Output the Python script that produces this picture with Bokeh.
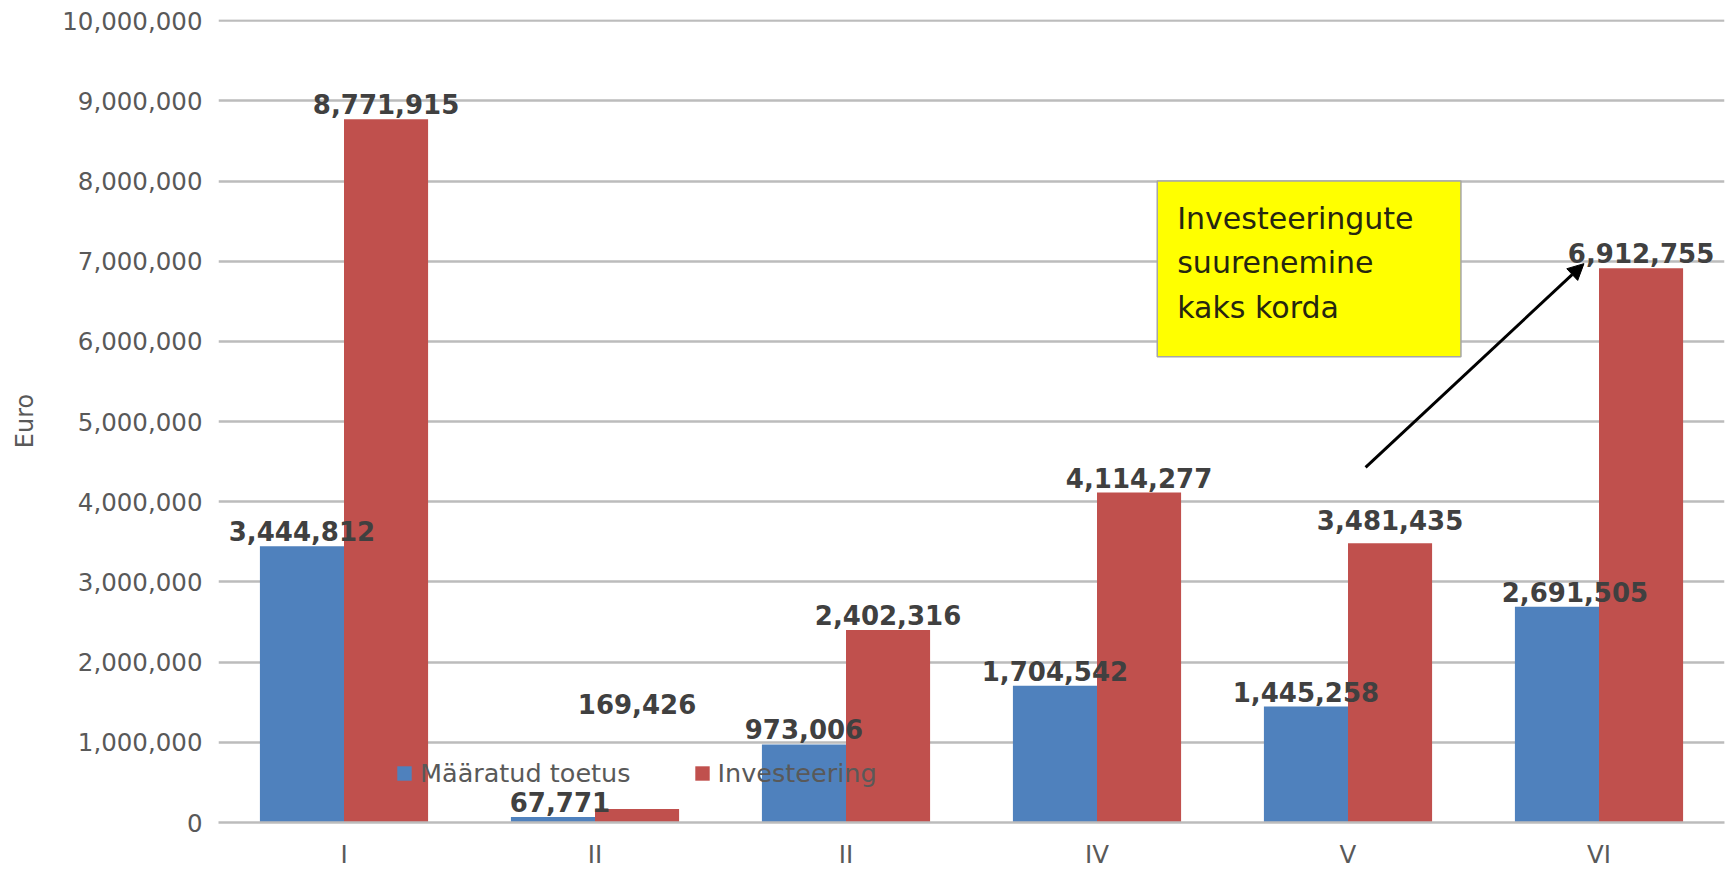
import numpy as np
from bokeh.plotting import figure
from bokeh.models import (ColumnDataSource, Range1d, FixedTicker, NumeralTickFormatter,
                          LabelSet, Label, BoxAnnotation, Arrow, NormalHead, Legend, LegendItem)
from bokeh.core.properties import value
from bokeh.embed import file_html
from bokeh.resources import INLINE

# ---------------- data ----------------
categories = ["I", "II", "II", "IV", "V", "VI"]
toetus = [3444812, 67771, 973006, 1704542, 1445258, 2691505]
investeering = [8771915, 169426, 2402316, 4114277, 3481435, 6912755]
series_names = ["Määratud toetus", "Investeering"]
y_ticks = [0, 1000000, 2000000, 3000000, 4000000, 5000000,
           6000000, 7000000, 8000000, 9000000, 10000000]
y_label = "Euro"
annotation_text = "Investeeringute\nsuurenemine\nkaks korda"

# ---------------- style ----------------
BLUE = "#4F81BD"
RED = "#C0504D"
GRID = "#bcbcbc"
AXIS_TXT = "#595959"
LABEL_TXT = "#404040"
FONT = "DejaVu Sans"
BAR_W = 0.335
Y_TOP_PAD = 15000  # keeps the top gridline fully visible
# per-label manual nudges (px) as in the original
toetus_dx = [0, 7, 0, 0, 0, 18]
invest_dy = [0, 90, 0, 0, 8, 0]

# annotation box placement (data units)
ANN_LEFT, ANN_RIGHT, ANN_BOTTOM, ANN_TOP = 4.24, 5.45, 5.81e6, 8.0e6
ARR_X0, ARR_Y0, ARR_X1, ARR_Y1 = 5.07, 4.43e6, 5.94, 6.97e6

idx = np.arange(1, len(categories) + 1)
x_blue = idx - BAR_W / 2
x_red = idx + BAR_W / 2

p = figure(width=1725, height=871,
           x_range=Range1d(0.5, len(categories) + 0.5),
           y_range=Range1d(y_ticks[0], y_ticks[-1] + Y_TOP_PAD),
           output_backend="svg", toolbar_location=None,
           min_border_left=218, min_border_right=1,
           min_border_top=19, min_border_bottom=49,
           outline_line_color=None)

# grid
p.xgrid.visible = False
p.ygrid.ticker = FixedTicker(ticks=y_ticks)
p.ygrid.grid_line_color = GRID
p.ygrid.grid_line_width = 2.5

# y axis
p.yaxis.ticker = FixedTicker(ticks=y_ticks)
p.yaxis.formatter = NumeralTickFormatter(format="0,0")
p.yaxis.axis_line_color = None
p.yaxis.major_tick_line_color = None
p.yaxis.major_tick_out = 0
p.yaxis.minor_tick_line_color = None
p.yaxis.major_label_text_font = FONT
p.yaxis.major_label_text_font_size = "24.5px"
p.yaxis.major_label_text_color = AXIS_TXT
p.yaxis.major_label_standoff = 16
p.yaxis.axis_label = y_label
p.yaxis.axis_label_text_font = FONT
p.yaxis.axis_label_text_font_style = "normal"
p.yaxis.axis_label_text_font_size = "24px"
p.yaxis.axis_label_text_color = AXIS_TXT
p.yaxis.axis_label_standoff = 20

# x axis
p.xaxis.ticker = FixedTicker(ticks=[int(i) for i in idx])
p.xaxis.major_label_overrides = {int(i): c for i, c in zip(idx, categories)}
p.xaxis.axis_line_color = GRID
p.xaxis.axis_line_width = 2.5
p.xaxis.major_tick_line_color = None
p.xaxis.major_tick_out = 0
p.xaxis.minor_tick_line_color = None
p.xaxis.major_label_text_font = FONT
p.xaxis.major_label_text_font_size = "24.5px"
p.xaxis.major_label_text_color = AXIS_TXT
p.xaxis.major_label_standoff = 17

# bars
r1 = p.vbar(x=x_blue, top=toetus, width=BAR_W, fill_color=BLUE, line_color=None)
r2 = p.vbar(x=x_red, top=investeering, width=BAR_W, fill_color=RED, line_color=None)

# data labels
lab_src = ColumnDataSource(dict(
    x=list(x_blue) + list(x_red),
    y=toetus + investeering,
    text=[f"{v:,}" for v in toetus + investeering],
    dx=toetus_dx + [0] * len(investeering),
    dy=[5] * len(toetus) + [5 + d for d in invest_dy],
))
labels = LabelSet(x="x", y="y", text="text", source=lab_src,
                  x_offset="dx", y_offset="dy",
                  text_align="center", text_baseline="bottom",
                  text_font=value(FONT), text_font_style="bold",
                  text_font_size="26px", text_color=LABEL_TXT)
p.add_layout(labels)

# legend
legend = Legend(items=[LegendItem(label=series_names[0], renderers=[r1]),
                       LegendItem(label=series_names[1], renderers=[r2])],
                location=(177, 34), orientation="horizontal",
                label_text_font=FONT, label_text_font_size="25.5px",
                label_text_color=AXIS_TXT, glyph_width=18, glyph_height=18,
                label_standoff=7, spacing=62, padding=0, margin=0,
                border_line_color=None, background_fill_alpha=0)
p.add_layout(legend)

# annotation box + arrow
box = BoxAnnotation(left=ANN_LEFT, right=ANN_RIGHT, bottom=ANN_BOTTOM, top=ANN_TOP,
                    fill_color="#FFFF00", fill_alpha=1.0,
                    line_color="#a6a6a6", line_width=1.5, line_alpha=1.0)
p.add_layout(box)
ann = Label(x=ANN_LEFT, y=ANN_TOP, x_offset=20, y_offset=-20,
            text=annotation_text, text_align="left", text_baseline="top",
            text_font=FONT, text_font_size="30px", text_color="#262610",
            text_line_height=1.27)
p.add_layout(ann)
p.add_layout(Arrow(end=NormalHead(size=16, fill_color="black", line_color="black"),
                   x_start=ARR_X0, y_start=ARR_Y0, x_end=ARR_X1, y_end=ARR_Y1,
                   line_width=3, line_color="black"))

with open("out.html", "w", encoding="utf-8") as f:
    f.write(file_html(p, INLINE))
